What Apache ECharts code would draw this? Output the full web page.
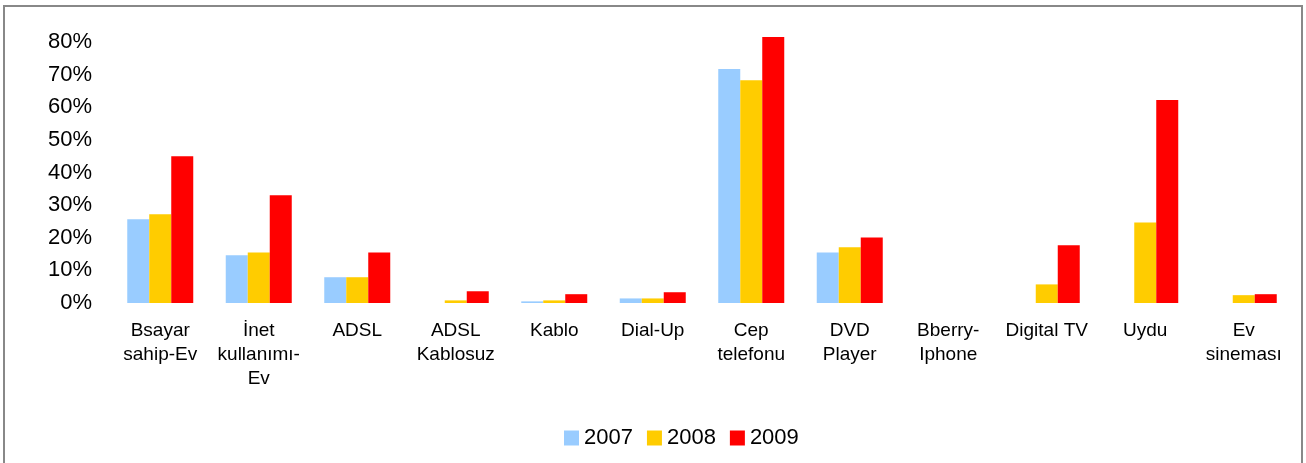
<!DOCTYPE html>
<html>
<head>
<meta charset="utf-8">
<script src="https://cdn.jsdelivr.net/npm/echarts@6/dist/echarts.min.js"></script>
<style>
html,body{margin:0;padding:0;background:#fff;}
#chart{width:1306px;height:463px;}
</style>
</head>
<body>
<div id="chart"></div>
<script>
var categories = ["Bsayar\nsahip-Ev", "İnet\nkullanımı-\nEv", "ADSL", "ADSL\nKablosuz", "Kablo", "Dial-Up", "Cep\ntelefonu", "DVD\nPlayer", "Bberry-\nIphone", "Digital TV", "Uydu", "Ev\nsineması"];
var seriesNames = ["2007", "2008", "2009"];
var values2007 = [25.7, 14.6, 7.9, 0, 0.5, 1.4, 71.7, 15.5, 0, 0, 0, 0];
var values2008 = [27.2, 15.5, 7.9, 0.8, 0.8, 1.4, 68.3, 17.1, 0, 5.7, 24.7, 2.4];
var values2009 = [45.0, 33.0, 15.5, 3.6, 2.7, 3.3, 81.5, 20.1, 0, 17.7, 62.2, 2.7];
var yTicks = [0, 10, 20, 30, 40, 50, 60, 70, 80];
var colors = ["#99CCFF", "#FFCC00", "#FF0000"];

var chart = echarts.init(document.getElementById('chart'), null, {renderer: 'canvas'});
var fontFamily = 'Liberation Sans, Arial, sans-serif';
var allValues = [values2007, values2008, values2009];
chart.setOption({
  animation: false,
  backgroundColor: '#fff',
  graphic: [{
    type: 'rect',
    shape: {x: 4, y: 6, width: 1298, height: 470},
    style: {fill: 'none', stroke: '#888888', lineWidth: 2},
    silent: true
  }],
  grid: {left: 111, right: 13, top: 42, bottom: 160},
  legend: {
    data: seriesNames,
    left: 564,
    top: 427,
    padding: 0,
    itemWidth: 15,
    itemHeight: 15,
    itemGap: 14,
    icon: 'rect',
    textStyle: {fontFamily: fontFamily, fontSize: 22, color: '#000', padding: [0,0,0,0]}
  },
  xAxis: {
    type: 'category',
    data: categories,
    axisLine: {show: false},
    axisTick: {show: false},
    axisLabel: {
      interval: 0,
      margin: 16,
      fontFamily: fontFamily,
      fontSize: 19,
      lineHeight: 24,
      color: '#000'
    }
  },
  yAxis: {
    type: 'value',
    min: yTicks[0],
    max: yTicks[yTicks.length - 1],
    interval: 10,
    axisLine: {show: false},
    axisTick: {show: false},
    splitLine: {show: false},
    axisLabel: {
      margin: 19,
      fontFamily: fontFamily,
      fontSize: 22,
      color: '#000',
      padding: [4, 0, 0, 0],
      formatter: function (v) { return v + '%'; }
    }
  },
  series: seriesNames.map(function (name, i) {
    return {
      name: name,
      type: 'bar',
      data: allValues[i],
      barWidth: 22,
      barGap: '0%',
      clip: false,
      itemStyle: {color: colors[i]}
    };
  })
});
</script>
</body>
</html>
